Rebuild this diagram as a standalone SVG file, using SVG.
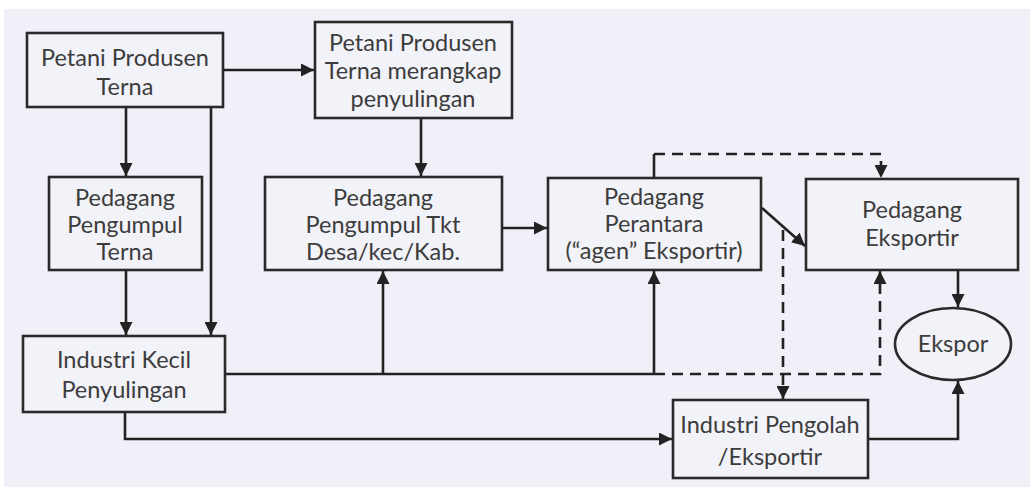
<svg xmlns="http://www.w3.org/2000/svg" width="1034" height="487" viewBox="0 0 1034 487">
<style>
.box{fill:#f2f2f9;stroke:#2a2a2a;stroke-width:2.6}
.t{font-family:Lato,"Open Sans",sans-serif;font-size:23.5px;fill:#3c3c3c;text-anchor:middle}
.c{fill:none;stroke:#222;stroke-width:2.6}
.d{fill:none;stroke:#222;stroke-width:2.6;stroke-dasharray:11 7}
</style>
<defs>
<marker id="a" viewBox="0 0 10 10" refX="10" refY="5" markerWidth="5" markerHeight="5" orient="auto" markerUnits="strokeWidth">
<path d="M0,0 L10,5 L0,10 z" fill="#222"/>
</marker>
</defs>
<rect x="0" y="0" width="1034" height="487" fill="#ffffff"/>
<rect x="4" y="9" width="1026" height="478" fill="#f0f0f8"/>
<g id="connectors">
<path class="c" d="M223,70 H314" marker-end="url(#a)"/>
<path class="c" d="M126,107 V176" marker-end="url(#a)"/>
<path class="c" d="M211,107 V335" marker-end="url(#a)"/>
<path class="c" d="M126,270 V335" marker-end="url(#a)"/>
<path class="c" d="M421,118 V176" marker-end="url(#a)"/>
<path class="c" d="M502,228 H547" marker-end="url(#a)"/>
<path class="c" d="M225,374 H654"/>
<path class="c" d="M383,374 V271" marker-end="url(#a)"/>
<path class="c" d="M654,374 V271" marker-end="url(#a)"/>
<path class="c" d="M762,208 L805,246" marker-end="url(#a)"/>
<path class="c" d="M654,178 V154"/>
<path class="d" d="M654,154 H881 V178" marker-end="url(#a)"/>
<path class="d" d="M654,374 H880 V271" marker-end="url(#a)"/>
<path class="d" d="M783,230 V399" marker-end="url(#a)"/>
<path class="c" d="M125,412 V439 H672" marker-end="url(#a)"/>
<path class="c" d="M868,439 H958 V381" marker-end="url(#a)"/>
<path class="c" d="M958,270 V307" marker-end="url(#a)"/>
</g>
<g id="n1"><rect class="box" x="27" y="33" width="196" height="74"/>
<text class="t" x="125" y="66">Petani Produsen</text><text class="t" x="125" y="95">Terna</text></g>
<g id="n2"><rect class="box" x="315" y="22" width="197" height="96"/>
<text class="t" x="413" y="51">Petani Produsen</text><text class="t" x="413" y="79">Terna merangkap</text><text class="t" x="413" y="107">penyulingan</text></g>
<g id="n3"><rect class="box" x="49" y="177" width="153" height="93"/>
<text class="t" x="125" y="206">Pedagang</text><text class="t" x="125" y="233">Pengumpul</text><text class="t" x="125" y="260">Terna</text></g>
<g id="n4"><rect class="box" x="265" y="177" width="237" height="93"/>
<text class="t" x="383" y="206">Pedagang</text><text class="t" x="383" y="233">Pengumpul Tkt</text><text class="t" x="383" y="260">Desa/kec/Kab.</text></g>
<g id="n5"><rect class="box" x="23" y="336" width="202" height="76"/>
<text class="t" x="124" y="368">Industri Kecil</text><text class="t" x="124" y="398">Penyulingan</text></g>
<g id="n6"><rect class="box" x="548" y="178" width="213" height="92"/>
<text class="t" x="654" y="205">Pedagang</text><text class="t" x="654" y="232">Perantara</text><text class="t" x="654" y="259">(“agen” Eksportir)</text></g>
<g id="n7"><rect class="box" x="806" y="179" width="212" height="91"/>
<text class="t" x="912" y="218">Pedagang</text><text class="t" x="912" y="246">Eksportir</text></g>
<g id="n8"><rect class="box" x="673" y="400" width="195" height="78"/>
<text class="t" x="770" y="433">Industri Pengolah</text><text class="t" x="770" y="465">/Eksportir</text></g>
<g id="n9"><ellipse class="box" cx="953" cy="344" rx="58" ry="36"/>
<text class="t" x="953" y="352">Ekspor</text></g>
</svg>
